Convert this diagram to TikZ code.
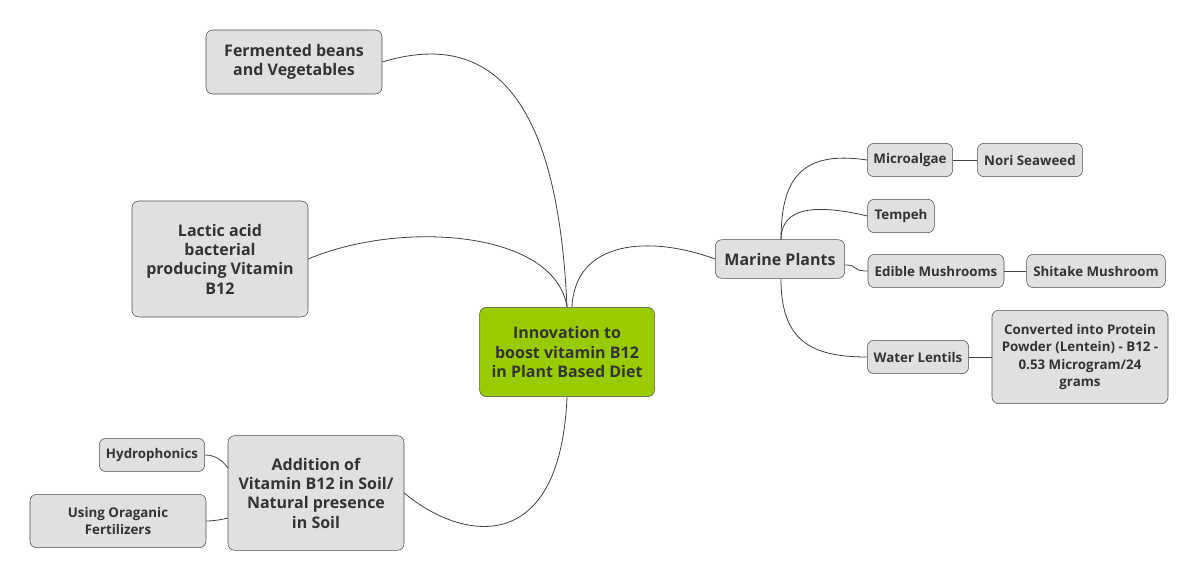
\documentclass[tikz,border=0pt]{standalone}
\usepackage{fontspec}
\setmainfont{Open Sans}
\begin{document}
\begin{tikzpicture}[x=0.75pt,y=-0.75pt,
  box/.style={draw=black!70,fill=black!12,rounded corners=5pt,align=center,text=black!80,font=\fontsize{12}{14.5}\selectfont\bfseries,inner sep=0pt},
  sbox/.style={box,font=\fontsize{10}{13}\selectfont\bfseries},
  con/.style={draw=black!75,line width=0.6pt}]
\useasboundingbox (0,0) rectangle (1200,583);
\node[box,fill=green!60!black!20!yellow!0,fill={rgb,255:red,153;green,204;blue,0},minimum width=131pt,minimum height=67pt] (c) at (567,352) {Innovation to\\boost vitamin B12\\in Plant Based Diet};
\node[box,minimum width=132pt,minimum height=48pt] (f) at (294,62) {Fermented beans\\and Vegetables};
\node[box,minimum width=132pt,minimum height=87pt] (l) at (220,259) {Lactic acid\\bacterial\\producing Vitamin\\B12};
\node[box,minimum width=132pt,minimum height=86pt] (a) at (316,493) {Addition of\\Vitamin B12 in Soil/\\Natural presence\\in Soil};
\node[sbox,minimum width=79pt,minimum height=25pt] (h) at (152,455) {Hydrophonics};
\node[sbox,minimum width=132pt,minimum height=40pt] (o) at (118,521) {Using Oraganic\\Fertilizers};
\node[box,minimum width=97pt,minimum height=29pt] (m) at (780,259) {Marine Plants};
\node[sbox,minimum width=64pt,minimum height=25pt] (mi) at (910,160) {Microalgae};
\node[sbox,minimum width=79pt,minimum height=25pt] (n) at (1030,160) {Nori Seaweed};
\node[sbox,minimum width=50pt,minimum height=25pt] (t) at (901,216) {Tempeh};
\node[sbox,minimum width=102pt,minimum height=25pt] (e) at (936,271) {Edible Mushrooms};
\node[sbox,minimum width=104pt,minimum height=25pt] (s) at (1096,271) {Shitake Mushroom};
\node[sbox,minimum width=76pt,minimum height=25pt] (w) at (918,357) {Water Lentils};
\node[sbox,minimum width=132pt,minimum height=70pt] (cv) at (1080,357) {Converted into Protein\\Powder (Lentein) - B12 -\\0.53 Microgram/24\\grams};
\draw[con] (567,307) .. controls (560,150) and (520,20) .. (f.east);
\draw[con] (567,307) .. controls (555,230) and (400,220) .. (l.east);
\draw[con] (567,397) .. controls (560,560) and (460,540) .. (a.east);
\draw[con] (572,307) .. controls (575,240) and (650,235) .. (m.west);
\draw[con] (781,240) .. controls (781,180) and (800,150) .. (mi.west);
\draw[con] (781,240) .. controls (781,215) and (800,200) .. (t.west);
\draw[con] (845,265) .. controls (860,265) and (850,271) .. (e.west);
\draw[con] (781,279) .. controls (781,340) and (810,357) .. (w.west);
\draw[con] (mi.east) -- (n.west);
\draw[con] (e.east) -- (s.west);
\draw[con] (w.east) -- (cv.west);
\draw[con] (228,468) .. controls (222,460) and (215,455) .. (h.east);
\draw[con] (228,518) .. controls (220,520) and (212,521) .. (o.east);
\end{tikzpicture}
\end{document}
